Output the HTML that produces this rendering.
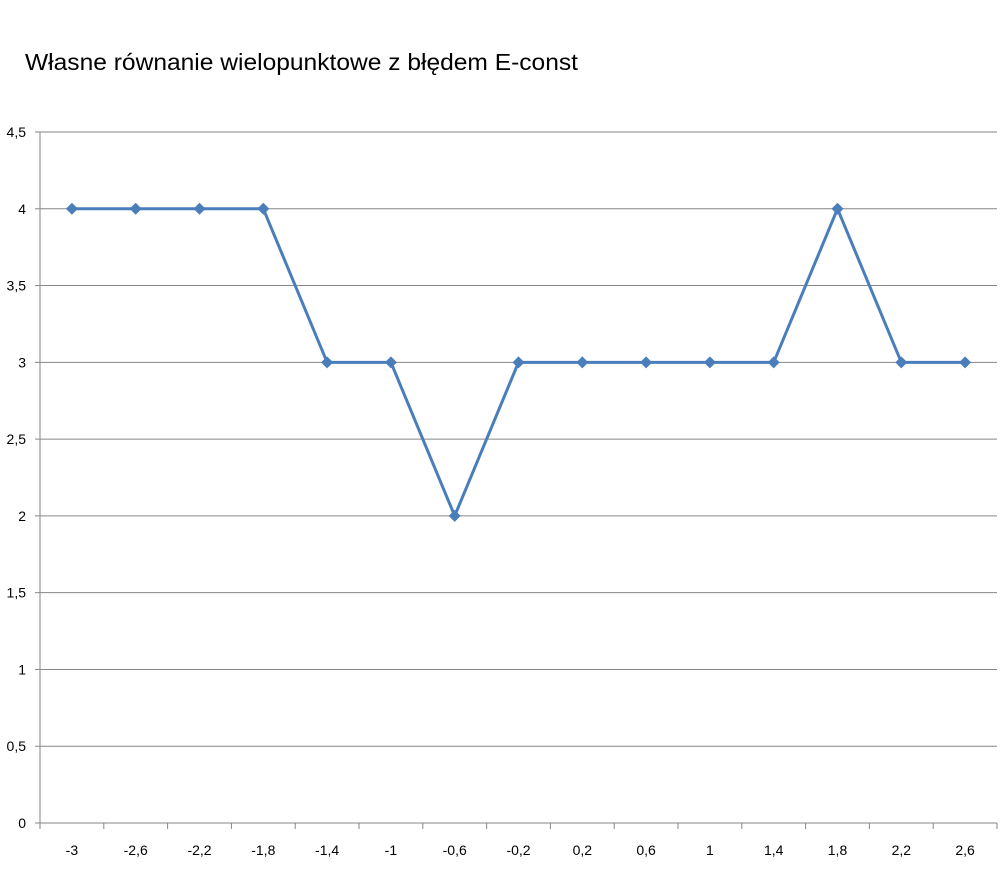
<!DOCTYPE html>
<html><head><meta charset="utf-8"><style>
body{margin:0;background:#fff;}
svg text{font-family:"Liberation Sans",sans-serif;fill:#000;}
</style></head><body>
<svg width="1006" height="868">
<text x="25" y="70" font-size="23" textLength="553" lengthAdjust="spacingAndGlyphs">Własne równanie wielopunktowe z błędem E-const</text>
<g id="grid"></g><g id="axes"></g><g id="series"></g>
</svg>
<script>
const categories=["-3","-2,6","-2,2","-1,8","-1,4","-1","-0,6","-0,2","0,2","0,6","1","1,4","1,8","2,2","2,6"];
const values=[4,4,4,4,3,3,2,3,3,3,3,3,4,3,3];
const yTicks=[0,0.5,1,1.5,2,2.5,3,3.5,4,4.5];
const yTickLabels=["0","0,5","1","1,5","2","2,5","3","3,5","4","4,5"];
const NS="http://www.w3.org/2000/svg";
const L=40,R=997,T=132,B=823,yMax=4.5;
const bw=(R-L)/categories.length;
const xs=i=>L+bw*(i+0.5);
const ys=v=>B-(v/yMax)*(B-T);
function mk(tag,attrs,parent){const e=document.createElementNS(NS,tag);for(const k in attrs)e.setAttribute(k,attrs[k]);parent.appendChild(e);return e;}
const grid=document.getElementById('grid'),axes=document.getElementById('axes'),ser=document.getElementById('series');
yTicks.forEach((v,i)=>{
  if(v>0){const g=mk('line',{x1:L,x2:R,y1:ys(v),y2:ys(v),stroke:'#868686','stroke-width':1},grid);
  
  }
  const t=mk('line',{x1:L-5,x2:L,y1:ys(v),y2:ys(v),stroke:'#868686'},axes);
  
  
  const tx=mk('text',{x:26,y:ys(v)+5,'text-anchor':'end','font-size':14},axes);
  tx.textContent=yTickLabels[i];
  
  
});
const ya=mk('line',{x1:L,x2:L,y1:T,y2:B,stroke:'#868686'},axes);


const xa=mk('line',{x1:L,x2:R,y1:B,y2:B,stroke:'#868686'},axes);


for(let i=0;i<=categories.length;i++){
  const t=mk('line',{x1:L+bw*i,x2:L+bw*i,y1:B,y2:B+6,stroke:'#868686'},axes);
  
  
}
categories.forEach((c,i)=>{
  const tx=mk('text',{x:xs(i),y:855,'text-anchor':'middle','font-size':14},axes);
  tx.textContent=c;
  
  
});
const pts=values.map((v,i)=>xs(i)+','+ys(v)).join(' ');
const pl=mk('polyline',{points:pts,fill:'none',stroke:'#4a7ebb','stroke-width':3,'stroke-linejoin':'round'},ser);


values.forEach((v,i)=>{
  const x=xs(i),y=ys(v),s=6;
  const m=mk('polygon',{points:`${x},${y-s} ${x+s},${y} ${x},${y+s} ${x-s},${y}`,fill:'#4a7ebb'},ser);
  
  
});
</script>
</body></html>
